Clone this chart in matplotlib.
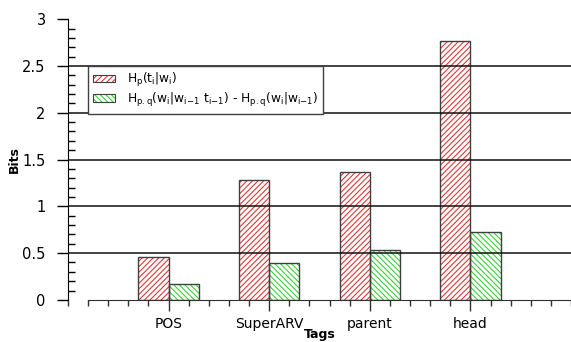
#!/usr/bin/env python3
# plot.py

import matplotlib
matplotlib.use("Agg")
import matplotlib.pyplot as plt
import numpy as np

from matplotlib.patches import Patch
from matplotlib.ticker import MultipleLocator, FormatStrFormatter

tags = ["POS", "SuperARV", "parent", "head"]
h_cond = [0.46, 1.28, 1.37, 2.77]
h_gain = [0.17, 0.39, 0.53, 0.73]

labels = [r"H$_\mathrm{p}$(t$_\mathrm{i}$|w$_\mathrm{i}$)",
          r"H$_\mathrm{p.q}$(w$_\mathrm{i}$|w$_\mathrm{i\mathrm{-}1}$ "
          r"t$_\mathrm{i\mathrm{-}1}$) - "
          r"H$_\mathrm{p.q}$(w$_\mathrm{i}$|w$_\mathrm{i\mathrm{-}1}$)"]

RED = "#e03838"
GREEN = "#38d038"
EDGE = "#404040"
RED_HATCH = "//////"
GREEN_HATCH = "\\\\\\\\\\\\"

plt.rcParams["hatch.linewidth"] = 0.8


def plot(ax):
    x = np.arange(1, len(tags) + 1)
    w = 0.3

    # hatch colour follows edgecolor, so draw fill and outline separately
    for xs, vals, col, hatch in [(x - w / 2, h_cond, RED, RED_HATCH),
                                 (x + w / 2, h_gain, GREEN, GREEN_HATCH)]:
        ax.bar(xs, vals, w, color="white", edgecolor=col, hatch=hatch,
               linewidth=0, zorder=2)
        ax.bar(xs, vals, w, color="none", edgecolor=EDGE, linewidth=1.0,
               zorder=3)

    ax.set_xlim(0, 5)
    ax.set_ylim(0, 3)
    ax.set_xticks(x)
    ax.set_xticklabels(tags)
    ax.xaxis.set_minor_locator(MultipleLocator(0.2))
    ax.yaxis.set_major_locator(MultipleLocator(0.5))
    ax.yaxis.set_minor_locator(MultipleLocator(0.1))
    ax.yaxis.set_major_formatter(FormatStrFormatter("%g"))

    ax.tick_params(axis="x", which="major", direction="out", length=8,
                   width=1, labelsize=10, pad=4, color="#303030")
    ax.tick_params(axis="x", which="minor", direction="out", length=4,
                   width=1, color="#303030")
    ax.tick_params(axis="y", which="major", direction="out", length=8,
                   width=1, labelsize=10.5, pad=8)
    ax.tick_params(axis="y", which="minor", direction="in", length=5,
                   width=1)

    for yv in np.arange(0.5, 3.0, 0.5):
        ax.axhline(yv, color="#111111", linewidth=1.1, zorder=4)

    ax.spines["top"].set_visible(False)
    ax.spines["right"].set_visible(False)
    ax.spines["bottom"].set_bounds(0.2, 5)
    ax.spines["bottom"].set_color("#303030")

    ax.set_ylabel("Bits", fontweight="bold", fontsize=9, labelpad=1)
    ax.set_xlabel("Tags", fontweight="bold", fontsize=9, labelpad=-2)

    handles = [(Patch(facecolor="white", edgecolor=RED, hatch=RED_HATCH, lw=0),
                Patch(facecolor="none", edgecolor=EDGE, lw=0.8)),
               (Patch(facecolor="white", edgecolor=GREEN, hatch=GREEN_HATCH, lw=0),
                Patch(facecolor="none", edgecolor=EDGE, lw=0.8))]
    leg = ax.legend(handles, labels, loc="upper left",
                    bbox_to_anchor=(0.04, 0.8335), fontsize=8.8,
                    fancybox=False, framealpha=1, edgecolor="#404040",
                    borderaxespad=0, handlelength=1.8, handleheight=0.6,
                    handletextpad=1.0, labelspacing=0.15, borderpad=0.4)
    leg.set_zorder(6)
    leg.get_frame().set_linewidth(1.0)

    ax.figure.savefig("out.png", dpi=100)


def main():
    fig = plt.figure(figsize=(5.71, 3.42))
    ax = fig.add_axes([0.119, 0.123, 0.881, 0.821])
    plot(ax)


if __name__ == "__main__":
    main()
